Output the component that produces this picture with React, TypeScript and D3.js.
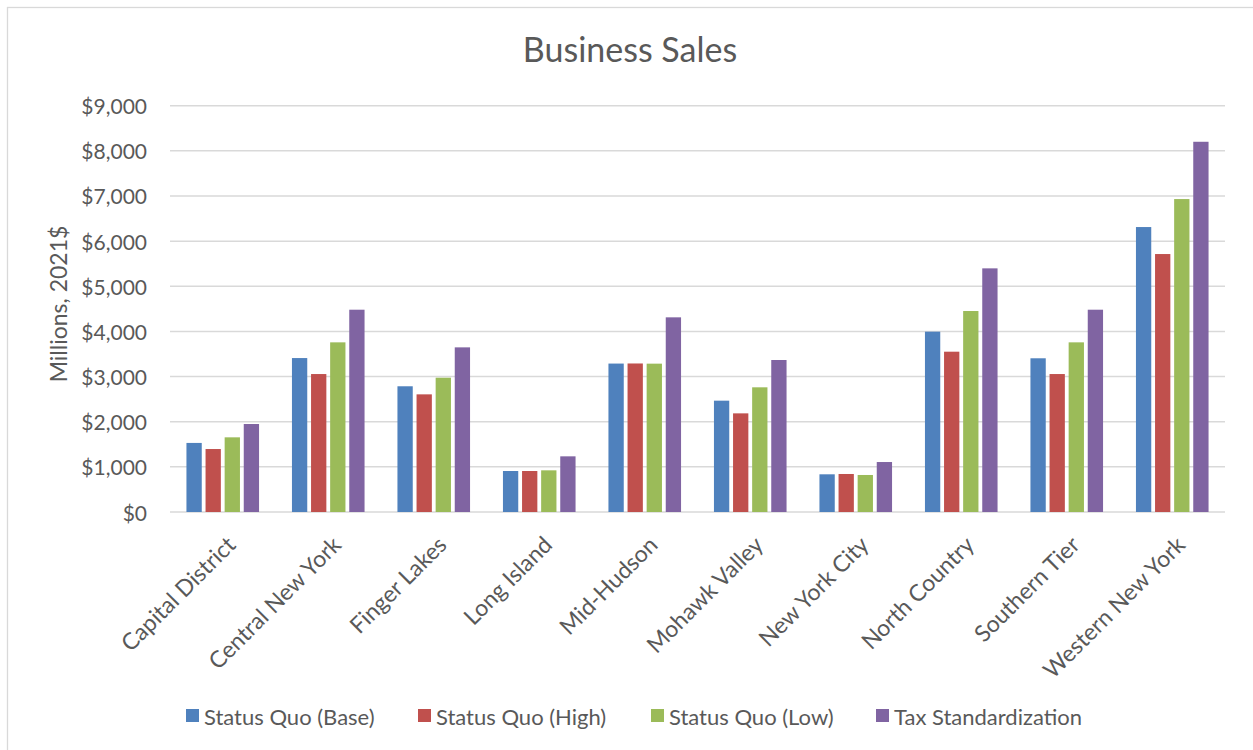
import React from "react";
import * as d3 from "d3";

const categories = [
  "Capital District",
  "Central New York",
  "Finger Lakes",
  "Long Island",
  "Mid-Hudson",
  "Mohawk Valley",
  "New York City",
  "North Country",
  "Southern Tier",
  "Western New York",
];

const seriesNames = ["Status Quo (Base)", "Status Quo (High)", "Status Quo (Low)", "Tax Standardization"];
const seriesColors = ["#4F81BD", "#C0504D", "#9BBB59", "#8064A2"];

const statusQuoBase = [1530, 3410, 2785, 908, 3288, 2466, 835, 3995, 3405, 6312];
const statusQuoHigh = [1395, 3056, 2606, 908, 3290, 2185, 842, 3551, 3056, 5714];
const statusQuoLow = [1654, 3758, 2975, 923, 3286, 2762, 820, 4452, 3758, 6932];
const taxStandardization = [1949, 4481, 3647, 1233, 4312, 3367, 1107, 5397, 4481, 8201];

const seriesValues = [statusQuoBase, statusQuoHigh, statusQuoLow, taxStandardization];

const yTicks = [0, 1000, 2000, 3000, 4000, 5000, 6000, 7000, 8000, 9000];

const W = 1253;
const H = 750;
const FONT = "Lato, 'Open Sans', sans-serif";
const TEXT = "#595959";

export default function App() {
  const left = 170;
  const right = 1225;
  const top = 105.7;
  const bottom = 512;

  const x = d3.scaleBand<string>().domain(categories).range([left, right]).paddingInner(0).paddingOuter(0);
  const y = d3.scaleLinear().domain([0, 9000]).range([bottom, top]);

  const slot = 19.1;
  const barW = 15.3;
  const inner = d3
    .scaleBand<string>()
    .domain(seriesNames)
    .range([-(slot * 2), slot * 2]);

  const fmt = (v: number) => "$" + d3.format(",")(v);

  const legendX = [186, 418, 651, 876];

  return (
    <svg width={W} height={H} style={{ position: "absolute", left: 0, top: 0, background: "#fff" }}>
      <rect x={7.5} y={7.5} width={1300} height={800} fill="#fff" stroke="#d9d9d9" strokeWidth={1.3} />
      <text x={630} y={62} textAnchor="middle" fontFamily={FONT} fontSize={34} fill={TEXT}>
        Business Sales
      </text>
      {yTicks.map((t) => (
        <g key={t}>
          <line x1={left} x2={right} y1={y(t)} y2={y(t)} stroke="#d9d9d9" strokeWidth={1.5} />
          <text
            x={147}
            y={y(t)}
            textAnchor="end"
            dominantBaseline="central"
            fontFamily={FONT}
            fontSize={21}
            fill={TEXT}
          >
            {fmt(t)}
          </text>
        </g>
      ))}
      <text
        transform={`translate(58,304) rotate(-90)`}
        textAnchor="middle"
        dominantBaseline="central"
        fontFamily={FONT}
        fontSize={23}
        fill={TEXT}
      >
        Millions, 2021$
      </text>
      {categories.map((c, ci) => {
        const cx = (x(c) as number) + x.bandwidth() / 2;
        return (
          <g key={c}>
            {seriesNames.map((s, si) => {
              const v = seriesValues[si][ci];
              const bx = cx + (inner(s) as number) + (slot - barW) / 2;
              return (
                <rect
                  key={s}
                  x={bx}
                  y={y(v)}
                  width={barW}
                  height={y(0) - y(v)}
                  fill={seriesColors[si]}
                />
              );
            })}
            <text
              transform={`translate(${cx + 8},${540}) rotate(-45)`}
              textAnchor="end"
              dominantBaseline="central"
              fontFamily={FONT}
              fontSize={23}
              fill={TEXT}
            >
              {c}
            </text>
          </g>
        );
      })}
      {seriesNames.map((s, i) => (
        <g key={s}>
          <rect x={legendX[i]} y={709} width={13} height={13} fill={seriesColors[i]} />
          <text
            x={legendX[i] + 18}
            y={716}
            dominantBaseline="central"
            fontFamily={FONT}
            fontSize={22}
            fill={TEXT}
          >
            {s}
          </text>
        </g>
      ))}
    </svg>
  );
}
